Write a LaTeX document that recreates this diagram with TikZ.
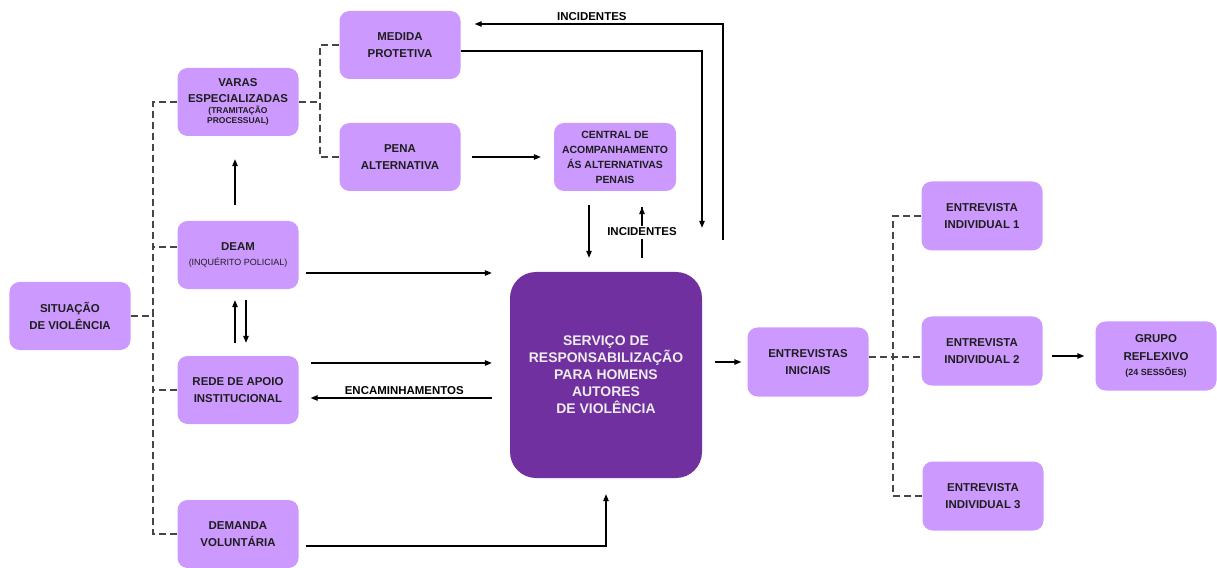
\documentclass[tikz,border=0pt]{standalone}
\usepackage{fontspec}
\setmainfont{Liberation Sans}
\usetikzlibrary{arrows.meta}
\definecolor{lightp}{RGB}{204,153,255}
\definecolor{darkp}{RGB}{112,48,160}
\definecolor{boxtext}{RGB}{30,30,30}
\definecolor{dashcol}{RGB}{70,70,70}
\newcommand{\mysmall}{\fontsize{8.5}{9.5}\selectfont}
\newcommand{\mysub}{\mdseries\fontsize{9}{10}\selectfont}
\begin{document}
\begin{tikzpicture}[x=1bp,y=-1bp,
  box/.style={draw=none, fill=lightp, rounded corners=10bp, minimum width=121bp, minimum height=68bp,
    align=center, text=boxtext, inner sep=2bp, font=\bfseries\fontsize{11.5}{17.5}\selectfont},
  bigbox/.style={draw=none, fill=darkp, rounded corners=26bp, minimum width=192bp, minimum height=206bp,
    align=center, text=white!93!black, inner sep=2bp, font=\bfseries\fontsize{14}{17}\selectfont},
  arr/.style={draw=black, line width=1.2bp, -{Triangle[length=7bp,width=5.5bp]}},
  plainln/.style={draw=black, line width=1.2bp},
  dashln/.style={draw=dashcol, line width=1.2bp, dash pattern=on 7bp off 4bp},
  lbl/.style={font=\bfseries\fontsize{11.5}{13}\selectfont, text=black, inner sep=1bp}
]
\useasboundingbox (0,0) rectangle (1217,568);

% nodes
\node[box] (sit) at (70,316) {SITUAÇÃO\\DE VIOLÊNCIA};
\node[box] (varas) at (238,102) {VARAS\\[-2bp]ESPECIALIZADAS\\[-6bp]{\mysmall (TRAMITAÇÃO}\\[-8bp]{\mysmall PROCESSUAL)}};
\node[box] (medida) at (400,45) {MEDIDA\\PROTETIVA};
\node[box] (pena) at (400,157) {PENA\\ALTERNATIVA};
\node[box, minimum width=122bp, font=\bfseries\fontsize{10.5}{16}\selectfont] (central) at (615,157) {CENTRAL DE\\[-1bp]ACOMPANHAMENTO\\[-1bp]ÁS ALTERNATIVAS\\[-1bp]PENAIS};
\node[box] (deam) at (238,255) {DEAM\\[-2bp]{\mysub (INQUÉRITO POLICIAL)}};
\node[box] (rede) at (238,390) {REDE DE APOIO\\INSTITUCIONAL};
\node[box] (demanda) at (238,534) {DEMANDA\\VOLUNTÁRIA};
\node[bigbox] (serv) at (606,375) {SERVIÇO DE\\RESPONSABILIZAÇÃO\\PARA HOMENS\\AUTORES\\DE VIOLÊNCIA};
\node[box, minimum height=69bp] (ini) at (808,362) {ENTREVISTAS\\INICIAIS};
\node[box, minimum height=69bp] (ei1) at (982,216) {ENTREVISTA\\INDIVIDUAL 1};
\node[box, minimum height=69bp] (ei2) at (982,351) {ENTREVISTA\\INDIVIDUAL 2};
\node[box, minimum height=69bp] (ei3) at (983,496) {ENTREVISTA\\INDIVIDUAL 3};
\node[box, minimum height=69bp] (grupo) at (1156,356) {GRUPO\\REFLEXIVO\\[-2bp]{\fontsize{9}{10}\selectfont (24 SESSÕES)}};

% dashed tree: situacao
\coordinate (j1) at (153,316);
\draw[dashln] (sit.east) -- (j1);
\draw[dashln] (varas.west) -| (j1);
\draw[dashln] (demanda.west) -| (j1);
\draw[dashln] ([yshift=8bp]deam.west) -- ([yshift=8bp]deam.west -| j1);
\draw[dashln] (rede.west) -- (rede.west -| j1);

% dashed tree: varas
\coordinate (j2) at (320,102);
\draw[dashln] (varas.east) -- (j2);
\draw[dashln] (medida.west) -| (j2);
\draw[dashln] (pena.west) -| (j2);

% dashed tree: entrevistas
\coordinate (j3) at (893,357);
\draw[dashln] ([yshift=5bp]ini.east) -- ([yshift=5bp]ini.east -| ei2.west);
\draw[dashln] (ei1.west) -| (j3);
\draw[dashln] (ei3.west) -| (j3);

% arrows left column
\draw[arr, shorten <=16bp, shorten >=23bp] ([xshift=-3bp]deam.north) -- ([xshift=-3bp]varas.south);
\draw[arr, shorten <=13bp, shorten >=11bp] ([xshift=-3bp]rede.north) -- ([xshift=-3bp]deam.south);
\draw[arr, shorten <=11bp, shorten >=13bp] ([xshift=8bp]deam.south) -- ([xshift=8bp]rede.north);

% to servico
\draw[arr, shorten <=7bp, shorten >=18bp] ([yshift=-18bp]deam.east) -- ([yshift=-18bp]deam.east -| serv.west);
\draw[arr, shorten <=12bp, shorten >=18bp] ([yshift=27bp]rede.east) -- ([yshift=27bp]rede.east -| serv.west);
\draw[arr, shorten <=18bp, shorten >=12bp] ([yshift=-8bp]rede.east -| serv.west) -- node[lbl, above=2bp] {ENCAMINHAMENTOS} ([yshift=-8bp]rede.east);
\draw[arr, shorten <=7bp, shorten >=16bp] ([yshift=-12bp]demanda.east) -| (serv.south);

% central
\draw[arr, shorten <=11bp, shorten >=13bp] (pena) -- (central);
\draw[arr, shorten <=14bp, shorten >=14bp] ([xshift=-26bp]central.south) -- ([xshift=-26bp]central.south |- serv.north);
\draw[plainln, shorten <=14bp, shorten >=16bp] ([xshift=27bp]central.south |- serv.north) -- node[lbl, fill=white, inner sep=3bp] {INCIDENTES} ([xshift=27bp]central.south);
\draw[arr, shorten <=46bp, shorten >=16bp] ([xshift=27bp]central.south |- serv.north) -- ([xshift=27bp]central.south);

% medida loop
\draw[arr, shorten >=44bp] ([yshift=-6bp]medida.east) -| ([xshift=96bp]serv.north);
\coordinate (inc) at (723,240);
\draw[arr, shorten >=14bp] (inc) |- node[lbl, pos=0.75, above=2bp] {INCIDENTES} ([yshift=21bp]medida.east);

% right side
\draw[arr, shorten <=13bp, shorten >=6bp] (serv.east |- ini.west) -- (ini.west);
\draw[arr, shorten <=9bp, shorten >=11bp] ([yshift=-5bp]ei2.east) -- ([yshift=-5bp]ei2.east -| grupo.west);
\end{tikzpicture}
\end{document}
